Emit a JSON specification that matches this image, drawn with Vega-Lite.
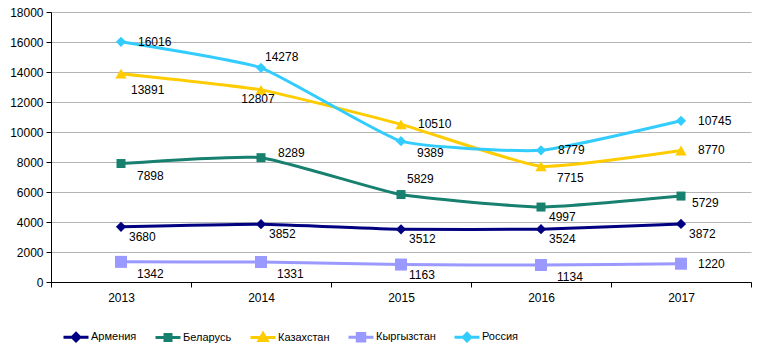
{
  "$schema": "https://vega.github.io/schema/vega-lite/v6.json",
  "width": 700,
  "height": 270,
  "autosize": {"type": "none"},
  "padding": {"left": 51, "top": 12, "right": 8, "bottom": 75},
  "background": "white",
  "config": {"view": {"stroke": null}, "font": "Liberation Sans"},
  "data": {"values": [
    {"country": "Армения", "year": "2013", "value": 3680},
    {"country": "Армения", "year": "2014", "value": 3852},
    {"country": "Армения", "year": "2015", "value": 3512},
    {"country": "Армения", "year": "2016", "value": 3524},
    {"country": "Армения", "year": "2017", "value": 3872},
    {"country": "Беларусь", "year": "2013", "value": 7898},
    {"country": "Беларусь", "year": "2014", "value": 8289},
    {"country": "Беларусь", "year": "2015", "value": 5829},
    {"country": "Беларусь", "year": "2016", "value": 4997},
    {"country": "Беларусь", "year": "2017", "value": 5729},
    {"country": "Казахстан", "year": "2013", "value": 13891},
    {"country": "Казахстан", "year": "2014", "value": 12807},
    {"country": "Казахстан", "year": "2015", "value": 10510},
    {"country": "Казахстан", "year": "2016", "value": 7715},
    {"country": "Казахстан", "year": "2017", "value": 8770},
    {"country": "Кыргызстан", "year": "2013", "value": 1342},
    {"country": "Кыргызстан", "year": "2014", "value": 1331},
    {"country": "Кыргызстан", "year": "2015", "value": 1163},
    {"country": "Кыргызстан", "year": "2016", "value": 1134},
    {"country": "Кыргызстан", "year": "2017", "value": 1220},
    {"country": "Россия", "year": "2013", "value": 16016},
    {"country": "Россия", "year": "2014", "value": 14278},
    {"country": "Россия", "year": "2015", "value": 9389},
    {"country": "Россия", "year": "2016", "value": 8779},
    {"country": "Россия", "year": "2017", "value": 10745}
  ]},
  "encoding": {
    "x": {
      "field": "year", "type": "ordinal",
      "scale": {"type": "band", "paddingInner": 0, "paddingOuter": 0},
      "axis": {"title": null, "labelAngle": 0, "tickBand": "extent", "domainColor": "black", "tickColor": "black", "tickSize": 5, "labelPadding": 5, "labelFontSize": 12, "labelColor": "black", "labelFont": "Liberation Sans", "grid": false}
    },
    "y": {
      "field": "value", "type": "quantitative",
      "scale": {"domain": [0, 18000], "nice": false},
      "axis": {"title": null, "values": [0, 2000, 4000, 6000, 8000, 10000, 12000, 14000, 16000, 18000], "format": "d", "grid": true, "gridColor": "#b5b5b5", "domainColor": "black", "tickColor": "black", "tickSize": 5, "labelPadding": 3, "labelFontSize": 12, "labelColor": "black", "labelFont": "Liberation Sans"}
    },
    "color": {
      "field": "country", "type": "nominal",
      "scale": {"domain": ["Армения", "Беларусь", "Казахстан", "Кыргызстан", "Россия"], "range": ["#000080", "#17806f", "#ffcc00", "#9999ff", "#33ccff"]},
      "legend": {
        "orient": "none", "legendX": 11, "legendY": 311, "direction": "horizontal", "title": null,
        "symbolSize": 625, "symbolStrokeWidth": 3, "labelFontSize": 11, "labelFont": "Liberation Sans", "labelColor": "black",
        "columnPadding": 12, "labelOffset": 1,
        "encode": {"symbols": {"update": {
          "shape": {"signal": "(datum.value === 'Армения' || datum.value === 'Россия') ? 'M-1,0H1M0,-0.3L0.3,0L0,0.3L-0.3,0Z' : datum.value === 'Казахстан' ? 'M-1,0H1M0,-0.32L0.32,0.24L-0.32,0.24Z' : datum.value === 'Кыргызстан' ? 'M-1,0H1M-0.3,-0.3H0.3V0.3H-0.3Z' : 'M-1,0H1M-0.24,-0.24H0.24V0.24H-0.24Z'"},
          "fill": {"scale": "color", "field": "value"},
          "stroke": {"scale": "color", "field": "value"},
          "strokeWidth": {"value": 3},
          "opacity": {"value": 1}
        }}}
      }
    }
  },
  "layer": [
    {
      "mark": {"type": "line", "strokeWidth": 3, "interpolate": "cardinal", "tension": 0.55}
    },
    {
      "transform": [{"filter": "datum.country === 'Армения' || datum.country === 'Россия'"}],
      "mark": {"type": "point", "shape": "diamond", "filled": true, "opacity": 1, "size": 105}
    },
    {
      "transform": [{"filter": "datum.country === 'Беларусь'"}],
      "mark": {"type": "point", "shape": "square", "filled": true, "opacity": 1, "size": 81}
    },
    {
      "transform": [{"filter": "datum.country === 'Кыргызстан'"}],
      "mark": {"type": "point", "shape": "square", "filled": true, "opacity": 1, "size": 144}
    },
    {
      "transform": [{"filter": "datum.country === 'Казахстан'"}],
      "mark": {"type": "point", "shape": "triangle-up", "filled": true, "opacity": 1, "size": 130}
    },
    {
      "transform": [{"filter": "indexof(['Россия|2013','Россия|2016','Россия|2017','Казахстан|2015','Казахстан|2017','Кыргызстан|2017'], datum.country + '|' + datum.year) >= 0"}],
      "mark": {"type": "text", "align": "left", "baseline": "middle", "dx": 17, "dy": 0, "fontSize": 12, "font": "Liberation Sans"},
      "encoding": {"text": {"field": "value", "type": "quantitative", "format": "d"}, "color": {"value": "black"}}
    },
    {
      "transform": [{"filter": "indexof(['Кыргызстан|2013','Кыргызстан|2014','Кыргызстан|2016','Беларусь|2013','Казахстан|2016','Россия|2015'], datum.country + '|' + datum.year) >= 0"}],
      "mark": {"type": "text", "align": "left", "baseline": "middle", "dx": 16, "dy": 12, "fontSize": 12, "font": "Liberation Sans"},
      "encoding": {"text": {"field": "value", "type": "quantitative", "format": "d"}, "color": {"value": "black"}}
    },
    {
      "transform": [{"filter": "datum.country === 'Армения' || datum.country + '|' + datum.year === 'Кыргызстан|2015' || datum.country + '|' + datum.year === 'Беларусь|2016'"}],
      "mark": {"type": "text", "align": "left", "baseline": "middle", "dx": 8, "dy": 10, "fontSize": 12, "font": "Liberation Sans"},
      "encoding": {"text": {"field": "value", "type": "quantitative", "format": "d"}, "color": {"value": "black"}}
    },
    {
      "transform": [{"filter": "datum.country + '|' + datum.year === 'Казахстан|2013'"}],
      "mark": {"type": "text", "align": "left", "baseline": "middle", "dx": 10, "dy": 16, "fontSize": 12, "font": "Liberation Sans"},
      "encoding": {"text": {"field": "value", "type": "quantitative", "format": "d"}, "color": {"value": "black"}}
    },
    {
      "transform": [{"filter": "datum.country + '|' + datum.year === 'Россия|2014'"}],
      "mark": {"type": "text", "align": "left", "baseline": "middle", "dx": 4, "dy": -11, "fontSize": 12, "font": "Liberation Sans"},
      "encoding": {"text": {"field": "value", "type": "quantitative", "format": "d"}, "color": {"value": "black"}}
    },
    {
      "transform": [{"filter": "datum.country + '|' + datum.year === 'Казахстан|2014'"}],
      "mark": {"type": "text", "align": "center", "baseline": "middle", "dx": -3, "dy": 9, "fontSize": 12, "font": "Liberation Sans"},
      "encoding": {"text": {"field": "value", "type": "quantitative", "format": "d"}, "color": {"value": "black"}}
    },
    {
      "transform": [{"filter": "datum.country + '|' + datum.year === 'Беларусь|2014'"}],
      "mark": {"type": "text", "align": "left", "baseline": "middle", "dx": 17, "dy": -5, "fontSize": 12, "font": "Liberation Sans"},
      "encoding": {"text": {"field": "value", "type": "quantitative", "format": "d"}, "color": {"value": "black"}}
    },
    {
      "transform": [{"filter": "datum.country + '|' + datum.year === 'Беларусь|2015'"}],
      "mark": {"type": "text", "align": "left", "baseline": "middle", "dx": 6, "dy": -16, "fontSize": 12, "font": "Liberation Sans"},
      "encoding": {"text": {"field": "value", "type": "quantitative", "format": "d"}, "color": {"value": "black"}}
    },
    {
      "transform": [{"filter": "datum.country + '|' + datum.year === 'Беларусь|2017'"}],
      "mark": {"type": "text", "align": "left", "baseline": "middle", "dx": 11, "dy": 7, "fontSize": 12, "font": "Liberation Sans"},
      "encoding": {"text": {"field": "value", "type": "quantitative", "format": "d"}, "color": {"value": "black"}}
    }
  ]
}
